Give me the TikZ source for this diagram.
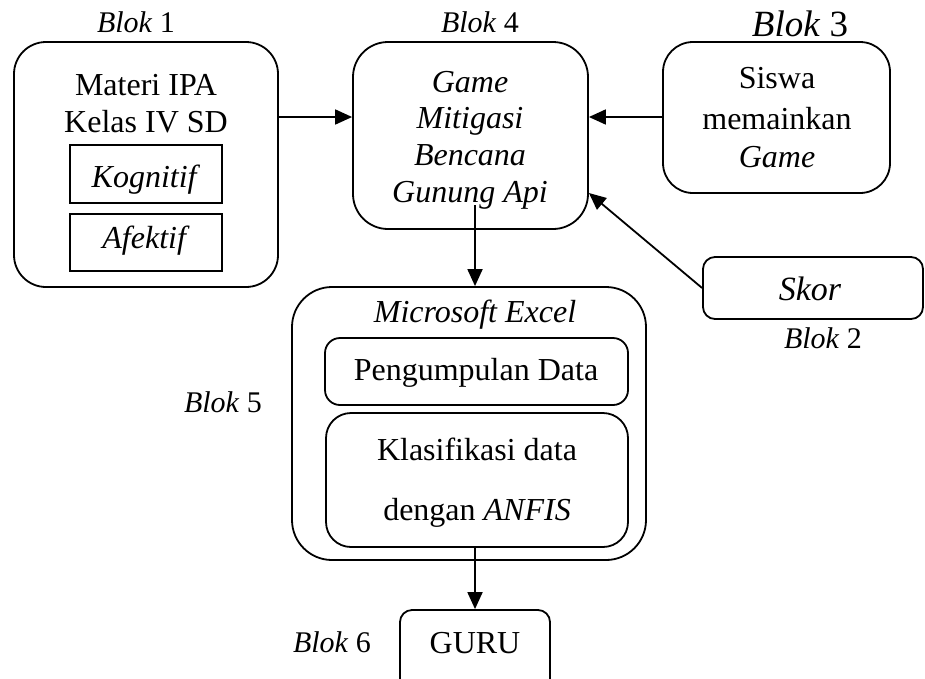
\documentclass[tikz,border=0pt]{standalone}
\usepackage{fontspec}
\setmainfont{Liberation Serif}
\usetikzlibrary{arrows.meta}
\begin{document}
\begin{tikzpicture}[x=1pt,y=-1pt,
  box/.style={draw, line width=1.8pt, inner sep=0pt},
  arr/.style={line width=1.8pt, -{Triangle[length=17pt,width=15pt]}},
  txt/.style={font=\fontsize{32}{38}\selectfont, inner sep=0pt, anchor=base},
  lbl/.style={font=\fontsize{30}{35}\selectfont, inner sep=0pt, anchor=base}]
\useasboundingbox (0,0) rectangle (925,678);

% Blok 1: learning material
\node[box, rounded corners=32pt, minimum width=264pt, minimum height=245pt] (b1) at (146,164.5) {};
\node[lbl] (l1) at (136,32) {\textit{Blok} 1};
\node[txt] (t1a) at (146,95) {Materi IPA};
\node[txt] (t1b) at (146,132) {Kelas IV SD};
\node[box, minimum width=152pt, minimum height=58pt] (kog) at (146,174) {};
\node[txt] (tkog) at (146,187) {\textit{Kognitif}};
\node[box, minimum width=152pt, minimum height=57pt] (afk) at (146,242.5) {};
\node[txt] (tafk) at (146,248) {\textit{Afektif}};

% Blok 4: the game
\node[box, rounded corners=35pt, minimum width=235pt, minimum height=187pt] (b4) at (470.5,135.5) {};
\node[lbl] (l4) at (480,32) {\textit{Blok} 4};
\node[txt] (t4a) at (470,92) {\textit{Game}};
\node[txt] (t4b) at (470,128) {\textit{Mitigasi}};
\node[txt] (t4c) at (470,165) {\textit{Bencana}};
\node[txt] (t4d) at (470,202) {\textit{Gunung Api}};

% Blok 3: students play
\node[box, rounded corners=30pt, minimum width=227pt, minimum height=151pt] (b3) at (776.5,117.5) {};
\node[lbl, font=\fontsize{37}{42}\selectfont] (l3) at (800,36) {\textit{Blok} 3};
\node[txt] (t3a) at (777,88) {Siswa};
\node[txt] (t3b) at (777,129) {memainkan};
\node[txt] (t3c) at (777,167) {\textit{Game}};

% Blok 2: score
\node[box, rounded corners=12pt, minimum width=220pt, minimum height=62pt] (skor) at (813,288) {};
\node[txt, font=\fontsize{34}{40}\selectfont] (tskor) at (810,300) {\textit{Skor}};
\node[lbl] (l2) at (823,348) {\textit{Blok} 2};

% Blok 5: Microsoft Excel
\node[box, rounded corners=40pt, minimum width=354pt, minimum height=273pt] (ex) at (469,423.5) {};
\node[txt] (tex) at (475,322) {\textit{Microsoft Excel}};
\node[box, rounded corners=15pt, minimum width=303pt, minimum height=67pt] (pd) at (476.5,371.5) {};
\node[txt] (tpd) at (476,380) {Pengumpulan Data};
\node[box, rounded corners=25pt, minimum width=302pt, minimum height=134pt] (kl) at (477,480) {};
\node[txt] (tkla) at (477,460) {Klasifikasi data};
\node[txt] (tklb) at (477,520) {dengan \textit{ANFIS}};
\node[lbl] (l5) at (223,412) {\textit{Blok} 5};

% Blok 6: teacher
\node[box, rounded corners=12pt, minimum width=150pt, minimum height=90pt] (guru) at (475,655) {};
\node[txt] (tguru) at (475,653) {GURU};
\node[lbl] (l6) at (332,652) {\textit{Blok} 6};

% connectors
\coordinate (y1) at (0,117);
\coordinate (y2) at (0,193);
\coordinate (s4) at (475,205);
\draw[arr] (b1.east |- y1) -- (b4.west |- y1);
\draw[arr] (b3.west |- y1) -- (b4.east |- y1);
\draw[arr] (skor.west) -- (b4.east |- y2);
\draw[arr] (s4) -- (s4 |- ex.north);
\draw[arr] (guru.north |- kl.south) -- (guru.north);
\end{tikzpicture}
\end{document}
